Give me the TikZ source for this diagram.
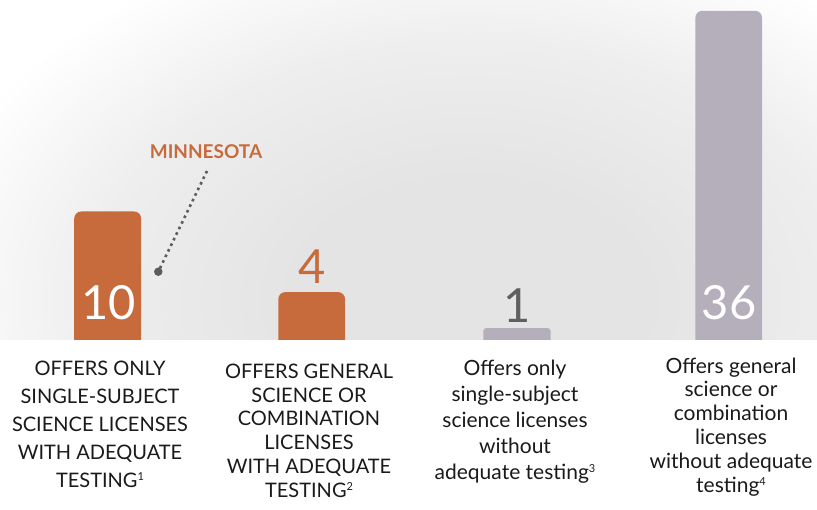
\documentclass[tikz,border=0pt]{standalone}
\usepackage{fontspec}
\setmainfont{Lato}
\definecolor{barorange}{HTML}{C86B3C}
\definecolor{bargray}{HTML}{B5AFBC}
\definecolor{numgray}{HTML}{5F5F62}
\definecolor{txt}{HTML}{1A1A1A}
\definecolor{bgc}{HTML}{E4E4E4}
\definecolor{bgm}{HTML}{EEEEEE}
\definecolor{linegray}{HTML}{5C5C5C}
\pgfdeclareradialshading{bgshade}{\pgfpoint{0bp}{0bp}}{color(0bp)=(bgc); color(8bp)=(bgc); color(17bp)=(bgm); color(25bp)=(white); color(50bp)=(white)}
\newcommand{\fnmark}[1]{\raisebox{6.5pt}{\fontsize{11}{11}\selectfont #1}}
\begin{document}
\begin{tikzpicture}[x=1pt,y=-1pt,
  bar/.style={draw=none, rounded corners=7pt, anchor=south, inner sep=0pt},
  num/.style={anchor=base, inner sep=0pt, font=\fontsize{47}{50}\selectfont},
  lab/.style={anchor=north, inner sep=0pt, align=center, text=txt},
  dotline/.style={draw=linegray, line width=2.6pt, dash pattern=on 2.6pt off 3.6pt}]
\useasboundingbox (0,0) rectangle (817,510);
\fill[white] (0,0) rectangle (817,510);
\begin{scope}
  \clip (0,0) rectangle (817,340);
  \shade[shading=bgshade] (470,300) ellipse [x radius=560, y radius=380];
  % bars
  \node[bar, fill=barorange, minimum width=67, minimum height=138.3] (b1) at (107.7,350) {};
  \node[bar, fill=barorange, minimum width=66.7, minimum height=57.7] (b2) at (311.7,350) {};
  \node[bar, fill=bargray, rounded corners=3pt, minimum width=67.4, minimum height=21.7] (b3) at (517,350) {};
  \node[bar, fill=bargray, minimum width=66.7, minimum height=339] (b4) at (728.7,350) {};
\end{scope}
% values
\node[num, text=white] (n1) at (108.5,320) {10};
\node[num, text=barorange] (n2) at (312.5,284) {4};
\node[num, text=numgray] (n3) at (517.5,323) {1};
\node[num, text=white] (n4) at (729,320) {36};
% Minnesota callout
\node[anchor=base, inner sep=0pt, text=barorange, font=\fontsize{19}{22}\selectfont\bfseries] (mn) at (206,159) {MINNESOTA};
\node[circle, fill=linegray, inner sep=0pt, minimum size=8.5] (dot) at (158.3,271.7) {};
\coordinate (lt) at (207,171);
\draw[dotline] (lt) -- (dot.center);
% labels
\node[lab, font=\fontsize{20}{28}\selectfont] (l1) at (100,360.6) {OFFERS ONLY\\SINGLE-SUBJECT\\SCIENCE LICENSES\\WITH ADEQUATE\\TESTING\fnmark{1}};
\node[lab, font=\fontsize{20}{23.8}\selectfont] (l2) at (309,363.6) {OFFERS GENERAL\\SCIENCE OR\\COMBINATION\\LICENSES\\WITH ADEQUATE\\TESTING\fnmark{2}};
\node[lab, font=\fontsize{21}{26}\selectfont] (l3) at (515,359.5) {Offers only\\single-subject\\science licenses\\without\\adequate testing\fnmark{3}};
\node[lab, font=\fontsize{21}{23.8}\selectfont] (l4) at (731,357.5) {Offers general\\science or\\combination\\licenses\\without adequate\\testing\fnmark{4}};
\end{tikzpicture}
\end{document}
